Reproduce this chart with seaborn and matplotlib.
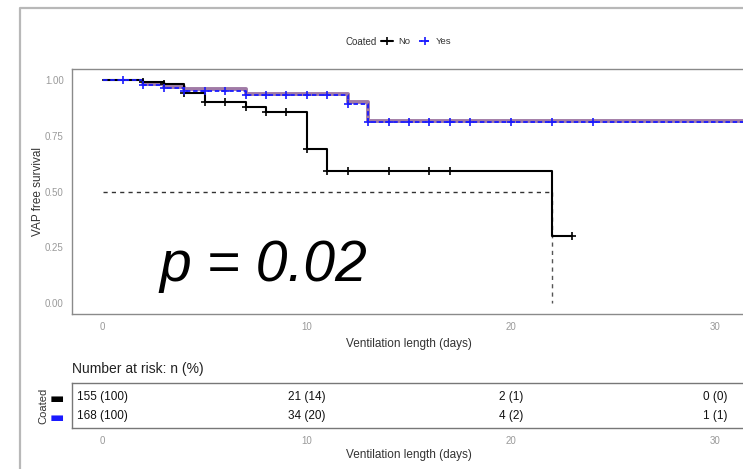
import numpy as np
import pandas as pd
import matplotlib
matplotlib.use("Agg")
import matplotlib.pyplot as plt
from matplotlib.lines import Line2D
import seaborn as sns

# step curve for Coated = No
no_times = [0, 2, 3, 4, 5, 7, 8, 10, 11, 22, 23]
no_surv = [1.0, 0.993, 0.984, 0.943, 0.900, 0.880, 0.855, 0.690, 0.592, 0.300, 0.300]
no_censor = [2, 3, 4, 5, 6, 7, 8, 9, 10, 11, 12, 14, 16, 17, 23]

# step curve for Coated = Yes
yes_times = [0, 2, 3, 4, 7, 12, 13, 32]
yes_surv = [1.0, 0.978, 0.963, 0.953, 0.933, 0.895, 0.810, 0.810]
yes_censor = [1, 2, 3, 4, 5, 6, 7, 8, 9, 10, 11, 12, 13, 14, 15, 16, 17, 18, 20, 22, 24]

# solid mauve curve drawn under the Yes curve
mauve_times = [2, 3, 4, 7, 12, 13, 32]
mauve_surv = [0.984, 0.968, 0.958, 0.939, 0.900, 0.817, 0.817]

median_time = 22
p_label = "p = 0.02"

risk_times = [0, 10, 20, 30]
risk_no = ["155 (100)", "21 (14)", "2 (1)", "0 (0)"]
risk_yes = ["168 (100)", "34 (20)", "4 (2)", "1 (1)"]

black = "black"
blue = "#1a1aff"
mauve = "#a07aa6"
tick_grey = "#9a9a9a"

sns.set_style("white")
plt.rcParams['font.family'] = ['Liberation Sans', 'DejaVu Sans']

fig = plt.figure(figsize=(7.43, 4.69), dpi=100)
W, H = 743, 469


def fx(px):
    return px / W


def fy(py):
    return 1 - py / H


# card border of the screenshot
fig.add_artist(Line2D([fx(20), fx(20), fx(745)], [fy(470), fy(8), fy(8)],
                      color="#b8b8b8", lw=1.6, transform=fig.transFigure))

ax = fig.add_axes([fx(72), fy(314), fx(746) - fx(72), fy(69) - fy(314)])
tab = fig.add_axes([fx(72), fy(428), fx(746) - fx(72), fy(383) - fy(428)])


def step_at(times, surv, t):
    i = np.searchsorted(times, t, side="right") - 1
    return surv[i]


df_no = pd.DataFrame({"time": no_times, "surv": no_surv})
df_yes = pd.DataFrame({"time": yes_times, "surv": yes_surv})
df_mauve = pd.DataFrame({"time": mauve_times, "surv": mauve_surv})

# median guide lines
ax.plot([0, median_time], [0.5, 0.5], color="#333333", lw=1, dashes=(3, 3), zorder=1)
ax.plot([median_time, median_time], [0.5, 0], color="#555555", lw=1, dashes=(3, 3), zorder=1)

sns.lineplot(data=df_mauve, x="time", y="surv", ax=ax, color=mauve, lw=2.8,
             drawstyle="steps-post", estimator=None, sort=False, zorder=2)
sns.lineplot(data=df_no, x="time", y="surv", ax=ax, color=black, lw=1.5,
             drawstyle="steps-post", estimator=None, sort=False, zorder=3)
sns.lineplot(data=df_yes, x="time", y="surv", ax=ax, color=blue, lw=1.3,
             drawstyle="steps-post", estimator=None, sort=False, zorder=4,
             dashes=False, linestyle=(0, (2.5, 1.5)))

cens_no = pd.DataFrame({"time": no_censor,
                        "surv": [step_at(no_times, no_surv, t) for t in no_censor]})
cens_yes = pd.DataFrame({"time": yes_censor,
                         "surv": [step_at(yes_times, yes_surv, t) for t in yes_censor]})
sns.scatterplot(data=cens_no, x="time", y="surv", ax=ax, marker="+", s=40,
                color=black, linewidth=1.2, zorder=5)
sns.scatterplot(data=cens_yes, x="time", y="surv", ax=ax, marker="+", s=40,
                color=blue, linewidth=1.2, zorder=6)

ax.text(2.8, 0.10, p_label, fontsize=41, style="italic", color="black",
        va="baseline", ha="left")

ax.set_xlim(-1.5, 31.5)
ax.set_ylim(-0.05, 1.05)
ax.set_xticks([0, 10, 20, 30])
ax.set_yticks([0, 0.25, 0.5, 0.75, 1.0])
ax.set_yticklabels(["0.00", "0.25", "0.50", "0.75", "1.00"])
ax.tick_params(axis="both", labelsize=7, colors=tick_grey, length=3, width=0.8, pad=3)
ax.set_xlabel("Ventilation length (days)", fontsize=8.5, color="#333333", labelpad=4)
ax.set_ylabel("VAP free survival", fontsize=8.5, color="#333333", labelpad=1)
for s in ax.spines.values():
    s.set_color("#8a8a8a")
    s.set_linewidth(1)

# legend on top
fig.text(fx(345), fy(42), "Coated", fontsize=7, color="#333333", va="center", ha="left")
handles = [Line2D([], [], color=black, lw=1.5, marker="+", markersize=6, mew=1.2),
           Line2D([], [], color=blue, lw=1.3, ls=(0, (2, 1.5)), marker="+", markersize=6, mew=1.2)]
fig.legend(handles, ["No", "Yes"], loc="center left", bbox_to_anchor=(fx(381), fy(42)),
           ncol=2, frameon=False, fontsize=6.8, handlelength=1.3, handletextpad=0.5,
           columnspacing=0.9, labelcolor="#333333", borderaxespad=0, borderpad=0)

# risk table
for i, (row, col) in enumerate([(risk_no, black), (risk_yes, blue)]):
    for t, lab in zip(risk_times, row):
        tab.text(t, i, lab, fontsize=8.5, ha="center", va="center", color="#111111")
tab.set_xlim(-1.5, 31.5)
tab.set_ylim(1.63, -0.74)
tab.set_xticks(risk_times)
tab.set_yticks([0, 1])
tab.set_yticklabels(["\u25AC", "\u25AC"], fontsize=11, family="DejaVu Sans")
for lab, col in zip(tab.get_yticklabels(), [black, blue]):
    lab.set_color(col)
tab.tick_params(axis="y", length=0, pad=6)
tab.tick_params(axis="x", labelsize=7, colors=tick_grey, length=3, width=0.8, pad=3)
tab.set_xlabel("Ventilation length (days)", fontsize=8.5, color="#333333", labelpad=2)
tab.set_ylabel("Coated", fontsize=8, color="#333333", labelpad=1)
for s in tab.spines.values():
    s.set_color("#777777")
    s.set_linewidth(1)
fig.text(fx(72), fy(369), "Number at risk: n (%)", fontsize=10, color="#222222",
         va="center", ha="left")

fig.savefig("out.png", dpi=100, facecolor="white")
